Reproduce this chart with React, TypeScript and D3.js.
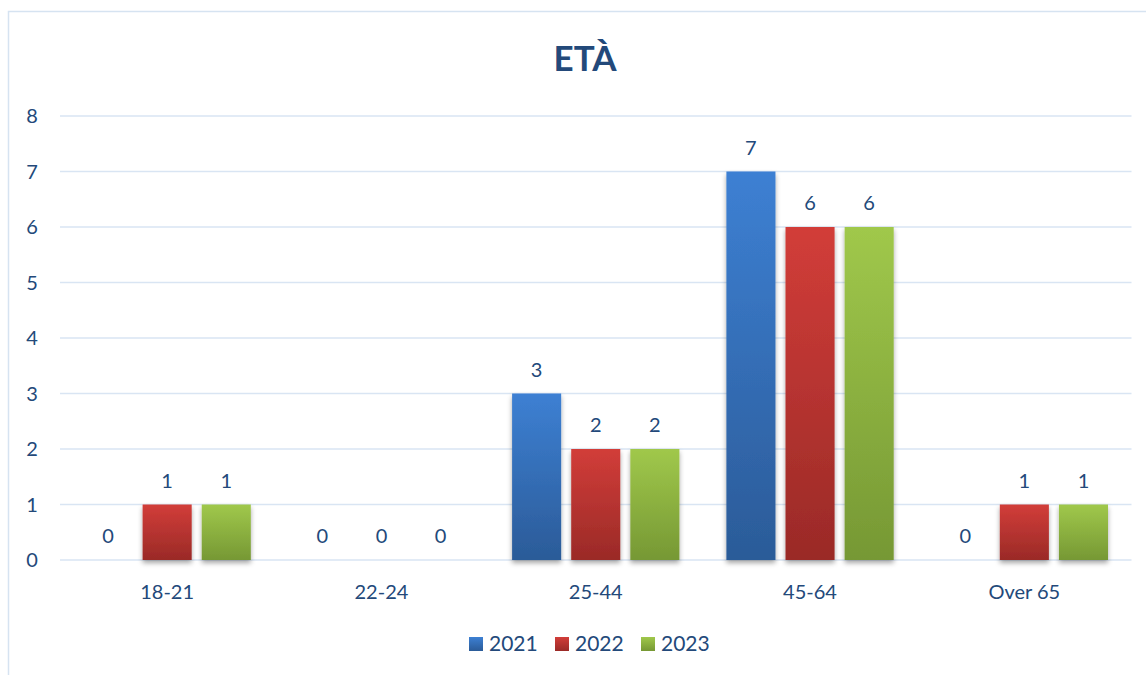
import React from "react";
import * as d3 from "d3";

const categories = ["18-21", "22-24", "25-44", "45-64", "Over 65"];
const seriesNames = ["2021", "2022", "2023"];
const values2021 = [0, 0, 3, 7, 0];
const values2022 = [1, 0, 2, 6, 1];
const values2023 = [1, 0, 2, 6, 1];
const yTicks = [0, 1, 2, 3, 4, 5, 6, 7, 8];
const title = "ETÀ";

const seriesValues = [values2021, values2022, values2023];
const gradients = [
  { id: "g2021", top: "#3d80d3", bottom: "#2b5b98" },
  { id: "g2022", top: "#d23d39", bottom: "#9a2a27" },
  { id: "g2023", top: "#a0c84b", bottom: "#769834" },
];

const W = 1146;
const H = 675;
const textColor = "#23497a";
const gridColor = "#d9e5f3";
const font = "Lato, 'Open Sans', sans-serif";

export default function App() {
  const x0 = d3.scaleBand<string>().domain(categories).range([60, 1131.5]).paddingInner(0).paddingOuter(0);
  const x1 = d3
    .scaleBand<string>()
    .domain(seriesNames)
    .range([23.5, x0.bandwidth() - 23.5])
    .paddingInner(0.17)
    .paddingOuter(0);
  const y = d3.scaleLinear().domain([0, 8]).range([560, 116]);

  return (
    <svg width={W} height={H} style={{ position: "absolute", left: 0, top: 0, background: "#fff" }}>
      <defs>
        {gradients.map((g) => (
          <linearGradient key={g.id} id={g.id} x1="0" y1="0" x2="0" y2="1">
            <stop offset="0%" stopColor={g.top} />
            <stop offset="100%" stopColor={g.bottom} />
          </linearGradient>
        ))}
        <filter id="shadow" x="-20%" y="-20%" width="140%" height="140%">
          <feDropShadow dx="0" dy="3" stdDeviation="2.5" floodColor="#000" floodOpacity="0.35" />
        </filter>
      </defs>
      <rect x={8.5} y={11.5} width={1200} height={700} fill="#fff" stroke="#d6e3f1" strokeWidth={1.5} />
      <text x={585} y={71} textAnchor="middle" fontFamily={font} fontWeight="bold" fontSize={35} fill={textColor}>
        {title}
      </text>
      {yTicks.map((t) => (
        <g key={t}>
          <line x1={60} x2={1131.5} y1={y(t)} y2={y(t)} stroke={gridColor} strokeWidth={1.5} />
          <text x={32} y={y(t) + 7} textAnchor="middle" fontFamily={font} fontSize={20} fill={textColor}>
            {t}
          </text>
        </g>
      ))}
      {categories.map((c, i) => (
        <g key={c} transform={`translate(${x0(c)},0)`}>
          {seriesNames.map((s, j) => {
            const v = seriesValues[j][i];
            const bx = x1(s)!;
            const bw = x1.bandwidth();
            return (
              <g key={s}>
                {v > 0 && (
                  <rect
                    x={bx}
                    y={y(v)}
                    width={bw}
                    height={y(0) - y(v)}
                    fill={`url(#${gradients[j].id})`}
                    filter="url(#shadow)"
                  />
                )}
                <text
                  x={bx + bw / 2}
                  y={y(v) - 17}
                  textAnchor="middle"
                  fontFamily={font}
                  fontSize={20}
                  fill={textColor}
                >
                  {v}
                </text>
              </g>
            );
          })}
          <text
            x={x0.bandwidth() / 2}
            y={599}
            textAnchor="middle"
            fontFamily={font}
            fontSize={20}
            fill={textColor}
          >
            {c}
          </text>
        </g>
      ))}
      {seriesNames.map((s, j) => {
        const lx = 469 + j * 86;
        return (
          <g key={s}>
            <rect x={lx} y={637} width={14} height={14} fill={`url(#${gradients[j].id})`} />
            <text x={lx + 20} y={651} fontFamily={font} fontSize={21} fill={textColor}>
              {s}
            </text>
          </g>
        );
      })}
    </svg>
  );
}
